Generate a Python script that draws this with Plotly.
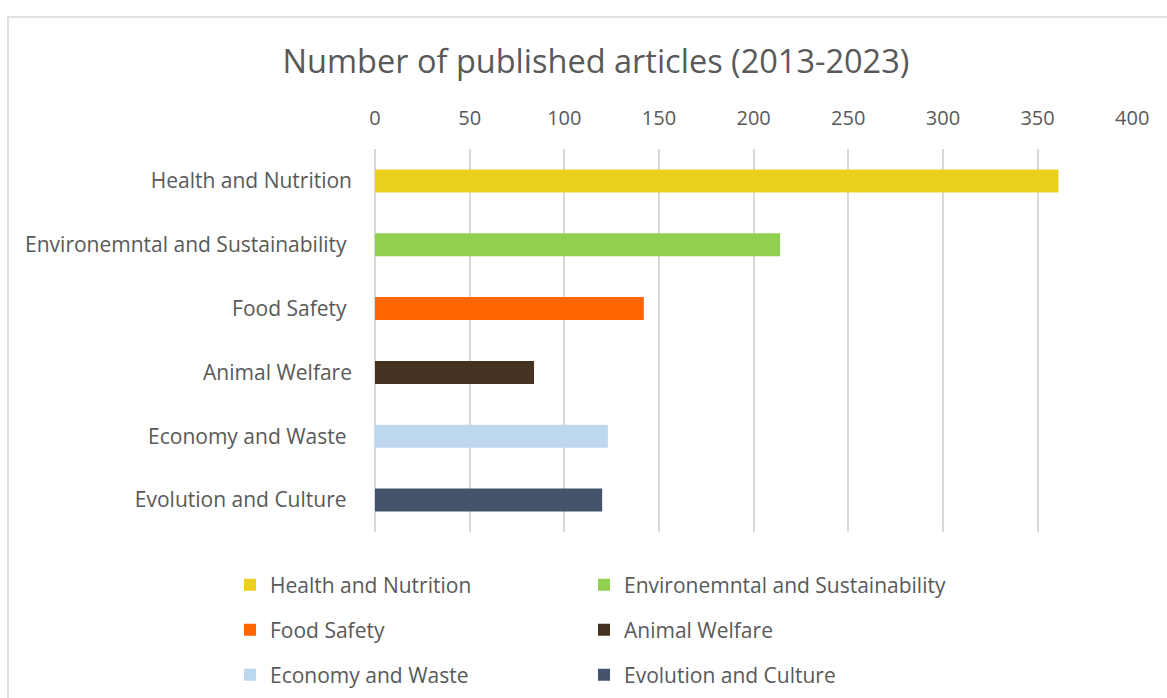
import plotly.graph_objects as go

categories = ["Health and Nutrition", "Environemntal and Sustainability", "Food Safety",
              "Animal Welfare", "Economy and Waste", "Evolution and Culture"]
tick_labels = ["Health and Nutrition", "Environemntal and Sustainability\u00a0", "Food Safety\u00a0",
               "Animal Welfare", "Economy and Waste\u00a0", "Evolution and Culture\u00a0"]
values = [361, 214, 142, 84, 123, 120]
colors = ["#EBD11E", "#92D050", "#FF6600", "#463221", "#BDD7EE", "#44546A"]
x_ticks = [0, 50, 100, 150, 200, 250, 300, 350, 400]

FONT = "Open Sans"
TXT = "#595959"

W, H = 1167, 698
L, R, T, B = 375, 1133, 149, 532

def px_x(p):
    return (p - L) / (R - L)

def px_y(p):
    return (B - p) / (B - T)

# legend positions (pixel) : two columns, three rows
leg_cols = [230, 584]
leg_rows = [585, 630, 675]

fig = go.Figure()
legend_layout = {}
for i, (cat, val, col) in enumerate(zip(categories, values, colors)):
    lid = "legend" if i == 0 else f"legend{i + 1}"
    fig.add_trace(go.Bar(x=[val], y=[cat], orientation="h", name=cat,
                         marker=dict(color=col, line=dict(width=0)),
                         legend=lid, showlegend=True))
    legend_layout[lid] = dict(
        orientation="h",
        x=px_x(leg_cols[i % 2]), y=px_y(leg_rows[i // 2]),
        xanchor="left", yanchor="middle",
        font=dict(family=FONT, size=21, color=TXT),
        bgcolor="rgba(0,0,0,0)", itemclick=False, itemdoubleclick=False)

fig.update_layout(
    width=W, height=H, showlegend=True,
    margin=dict(l=L, r=W - R, t=T, b=H - B, pad=0, autoexpand=False),
    paper_bgcolor="white", plot_bgcolor="white",
    barmode="overlay", bargap=0.64,
    title=dict(text="Number of published articles (2013-2023)",
               x=596 / W, xref="container", xanchor="center",
               y=1 - 62 / H, yref="container", yanchor="middle",
               font=dict(family=FONT, size=32.5, color=TXT)),
    xaxis=dict(range=[0, 400.4], side="top", tickvals=x_ticks,
               showgrid=True, gridcolor="#D9D9D9", gridwidth=2,
               zeroline=True, zerolinecolor="#D9D9D9", zerolinewidth=2,
               showline=False, ticks="",
               ticklabelstandoff=19,
               tickfont=dict(family=FONT, size=20, color=TXT)),
    yaxis=dict(categoryorder="array", categoryarray=categories,
               autorange="reversed", tickvals=categories, ticktext=tick_labels,
               showgrid=False, zeroline=False, showline=False, ticks="",
               ticklabelstandoff=22,
               tickfont=dict(family=FONT, size=21, color=TXT)),
    shapes=[dict(type="rect", xref="paper", yref="paper",
                 x0=px_x(8), x1=px_x(1190), y0=px_y(720), y1=px_y(17),
                 line=dict(color="#D9D9D9", width=1.5), fillcolor="rgba(0,0,0,0)",
                 layer="below")],
    **legend_layout,
)

fig.write_html("out.html")
